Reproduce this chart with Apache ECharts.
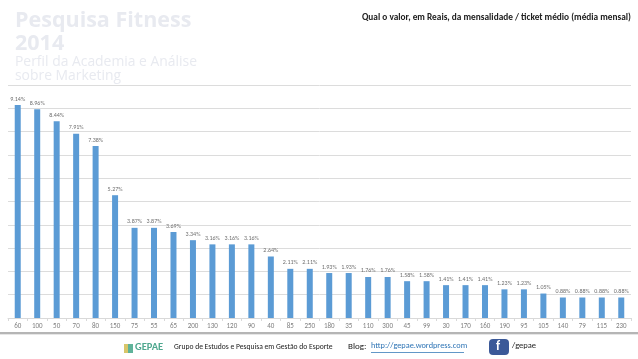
<!DOCTYPE html>
<html>
<head>
<meta charset="utf-8">
<style>
  html, body { margin: 0; padding: 0; background: #fff; }
  #chart { width: 638px; height: 359px; }
</style>
<script src="https://cdn.jsdelivr.net/npm/echarts@6/dist/echarts.min.js"></script>
</head>
<body>
<div id="chart"></div>
<script>
const categories = ['60', '100', '50', '70', '80', '150', '75', '55', '65', '200', '130', '120', '90', '40', '85', '250',
  '180', '35', '110', '300', '45', '99', '30', '170', '160', '190', '95', '105', '140', '79', '115', '230']
const percents = [9.14, 8.96, 8.44, 7.91, 7.38, 5.27, 3.87, 3.87, 3.69, 3.34, 3.16, 3.16, 3.16, 2.64, 2.11, 2.11,
  1.93, 1.93, 1.76, 1.76, 1.58, 1.58, 1.41, 1.41, 1.41, 1.23, 1.23, 1.05, 0.88, 0.88, 0.88, 0.88]

const sans = 'Carlito, "Open Sans", "Liberation Sans", sans-serif'
const chart = echarts.init(document.getElementById('chart'))

const option = {
  animation: false,
  backgroundColor: '#fff',
  title: [
    { text: 'Pesquisa Fitness\n2014', left: 15, top: 9, padding: 0, textStyle: { color: '#e8eaf0', fontSize: 21.5, fontWeight: 'bold', fontFamily: '"Open Sans"', lineHeight: 23 } },
    { text: 'Perfil da Academia e Análise\nsobre Marketing', left: 15, top: 55, padding: 0, textStyle: { color: '#e8eaf0', fontSize: 13.9, fontWeight: 'normal', fontFamily: '"Open Sans"', lineHeight: 14 } },
    { text: 'Qual o valor, em Reais, da mensalidade / ticket médio (média mensal)', right: 7, top: 13, padding: 0, textStyle: { color: '#222', fontSize: 9.3, fontWeight: 'bold', fontFamily: sans } }
  ],
  grid: { left: 8, right: 7, top: 85, bottom: 41 },
  xAxis: {
    type: 'category',
    data: categories,
    axisLine: { lineStyle: { color: '#d9d9d9' } },
    axisTick: { show: true, length: 3, lineStyle: { color: '#d9d9d9' } },
    axisLabel: { color: '#808080', fontSize: 7, margin: 5, interval: 0, fontFamily: sans }
  },
  yAxis: {
    type: 'value',
    min: 0,
    max: 10,
    interval: 1,
    axisLine: { show: false },
    axisTick: { show: false },
    axisLabel: { show: false },
    splitLine: { lineStyle: { color: '#dcdcdc', width: 1 } }
  },
  series: [{
    type: 'bar',
    data: percents,
    barWidth: 6,
    itemStyle: { color: '#5b9bd5' },
    label: {
      show: true,
      position: 'top',
      distance: 3,
      color: '#707070',
      fontSize: 6,
      fontFamily: sans,
      formatter: p => p.value.toFixed(2) + '%'
    }
  }],
  graphic: [
    // footer: separator, logo, credits
    { type: 'rect', shape: { x: 0, y: 332, width: 638, height: 2 }, style: { fill: '#b5b5b5' } },
    { type: 'rect', shape: { x: 0, y: 334, width: 638, height: 1 }, style: { fill: '#e6e6e6' } },
    { type: 'rect', shape: { x: 124, y: 344, width: 4, height: 9 }, style: { fill: '#d8c66a' } },
    { type: 'rect', shape: { x: 128, y: 344, width: 5, height: 9 }, style: { fill: '#5fb39a' } },
    { type: 'text', style: { x: 135, y: 342, text: 'GEPAE', fill: '#4fa88f', font: 'bold 10.5px ' + sans } },
    { type: 'text', style: { x: 174, y: 343, text: 'Grupo de Estudos e Pesquisa em Gestão do Esporte', fill: '#222', font: '7.6px ' + sans } },
    { type: 'text', style: { x: 348, y: 342, text: 'Blog:', fill: '#222', font: '9px ' + sans } },
    { type: 'text', style: { x: 371, y: 342, text: 'http://gepae.wordpress.com', fill: '#2e74b5', font: '8.3px ' + sans } },
    { type: 'rect', shape: { x: 371, y: 352, width: 93, height: 0.7 }, style: { fill: '#2e74b5' } },
    { type: 'rect', shape: { x: 489, y: 339, width: 20, height: 16, r: 4 }, style: { fill: '#3b5998' } },
    { type: 'text', style: { x: 496, y: 340, text: 'f', fill: '#fff', font: 'bold 13px ' + sans } },
    { type: 'text', style: { x: 512, y: 341, text: '/gepae', fill: '#222', font: '8.5px ' + sans } }
  ]
}

chart.setOption(option)
</script>
</body>
</html>
